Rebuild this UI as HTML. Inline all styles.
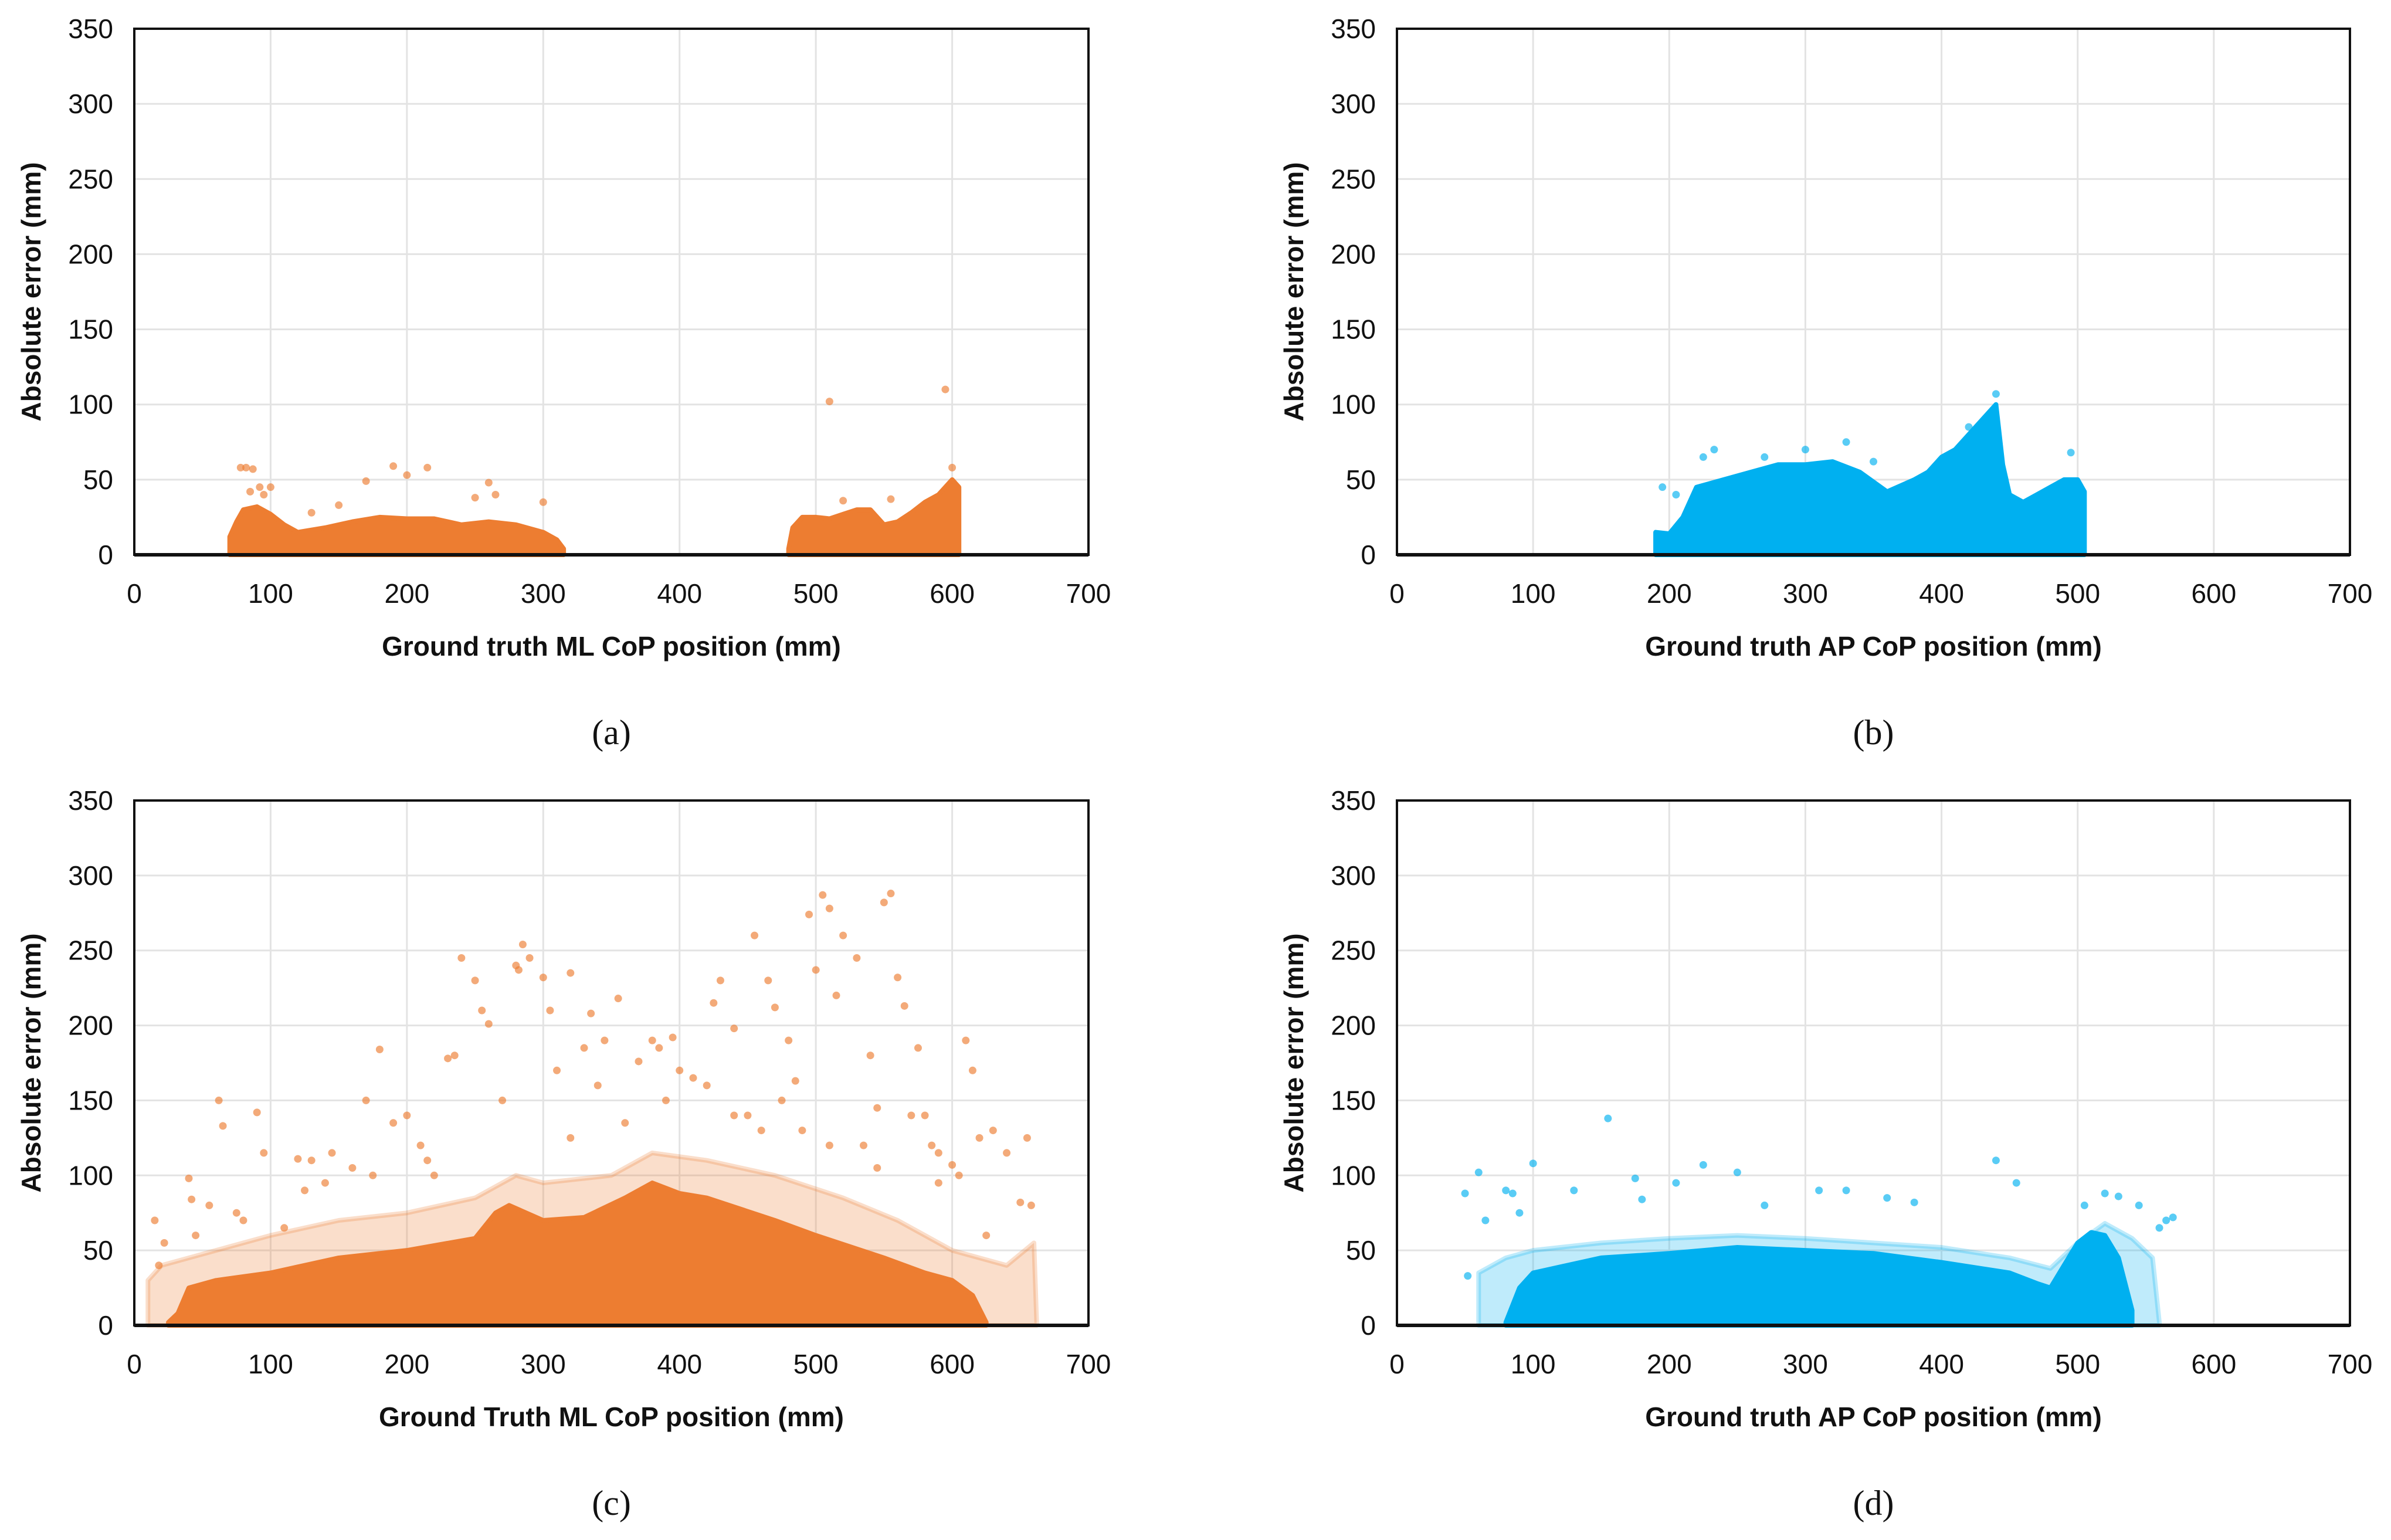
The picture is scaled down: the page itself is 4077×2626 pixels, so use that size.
<!DOCTYPE html>
<html><head><meta charset="utf-8"><style>
html,body{margin:0;padding:0;background:#fff;}
svg{display:block;}
.tk{font-family:"Liberation Sans",sans-serif;font-size:46px;fill:#111;}
.ti{font-family:"Liberation Sans",sans-serif;font-size:46px;font-weight:bold;fill:#111;}
.cap{font-family:"Liberation Serif",serif;font-size:60px;fill:#111;}
</style></head><body>
<svg id="fig" width="4077" height="2626" viewBox="0 0 4077 2626" xmlns="http://www.w3.org/2000/svg"></svg>
<script>
// ---------- data ----------
const xTicks=[0,100,200,300,400,500,600,700];
const yTicks=[0,50,100,150,200,250,300,350];
// panel a
const aEnvX1=[70,75,80,90,100,110,120,140,160,180,200,220,240,260,280,300,310,315];
const aEnvY1=[12,22,30,32,27,20,15,18,22,25,24,24,20,22,20,15,10,4];
const aEnvX2=[480,483,490,500,510,520,530,540,550,560,570,580,590,600,605];
const aEnvY2=[4,18,25,25,24,27,30,30,20,22,28,35,40,50,45];
const aOutX=[78,82,87,190,215,200,170,260,265,510,595,600,92,100,300,520,555,150,130,250,95,85];
const aOutY=[58,58,57,59,58,53,49,48,40,102,110,58,45,45,35,36,37,33,28,38,40,42];
// panel b
const bEnvX=[190,200,210,220,240,260,280,300,320,340,360,380,390,400,410,420,430,440,445,450,460,470,480,490,500,505];
const bEnvY=[15,14,25,45,50,55,60,60,62,55,42,50,55,65,70,80,90,100,60,40,35,40,45,50,50,42];
const bOutX=[195,225,233,270,330,440,495,420,205,300,350];
const bOutY=[45,65,70,65,75,107,68,85,40,70,62];
// panel c
const cEnvX=[25,32,40,60,100,150,200,250,265,275,300,330,360,380,400,420,470,500,550,580,600,615,625];
const cEnvY=[2,8,25,30,35,45,50,58,75,80,70,72,85,95,88,85,70,60,45,35,30,20,2];
const cHaloX=[10,20,40,60,100,150,200,250,280,300,350,380,420,470,520,560,600,620,640,660,662];
const cHaloY=[30,40,45,50,60,70,75,85,100,95,100,115,110,100,85,70,50,45,40,55,2];
const cOutX=[15,18,22,40,42,62,65,90,95,120,130,145,170,180,190,230,235,240,250,255,260,280,282,285,290,300,305,310,320,330,335,345,355,370,380,385,395,400,410,425,430,440,455,465,470,480,485,495,500,505,510,515,520,530,540,550,555,560,565,575,580,590,600,610,615,620,630,640,650,655,658,45,75,110,160,200,210,220,270,340,390,420,450,475,490,535,545,570,585,605,55,80,125,140,175,215,320,360,440,460,510,545,590,625];
const cOutY=[70,40,55,98,84,150,133,142,115,111,110,115,150,184,135,178,180,245,230,210,201,240,237,254,245,232,210,170,235,185,208,190,218,176,190,185,192,170,165,215,230,198,260,230,212,190,163,274,237,287,278,220,260,245,180,282,288,232,213,185,140,115,107,190,170,125,130,115,82,125,80,60,75,65,105,140,120,100,150,160,150,160,140,150,130,120,145,140,120,100,80,70,90,95,100,110,125,135,140,130,120,105,95,60];
// panel d
const dEnvX=[80,90,100,150,200,250,300,350,400,450,470,480,490,500,510,520,530,540];
const dEnvY=[2,25,35,45,48,52,50,48,42,35,28,25,40,55,62,60,45,10];
const dHaloX=[60,80,100,150,200,250,300,350,400,450,480,500,520,540,555,560];
const dHaloY=[35,45,50,55,58,60,58,55,52,45,38,55,68,58,45,2];
const dOutX=[50,52,60,80,85,100,155,175,225,250,440,455,520,530,570,545,65,90,130,180,205,330,380,310,270,360,560,565,505];
const dOutY=[88,33,102,90,88,108,138,98,107,102,110,95,88,86,72,80,70,75,90,84,95,90,82,90,80,85,65,70,80];

// ---------- drawing ----------
const NS="http://www.w3.org/2000/svg";
const svg=document.getElementById('fig');
function mk(tag,attrs,parent){const e=document.createElementNS(NS,tag);for(const k in attrs)e.setAttribute(k,attrs[k]);(parent||svg).appendChild(e);return e;}

function panel(cfg){
  const {x0,x1,y0,y1}=cfg;
  const sx=v=>x0+(x1-x0)*v/700;
  const sy=v=>y0-(y0-y1)*v/350;
  const g=mk('g',{});
  
  
  xTicks.forEach(t=>{if(t>0&&t<700){const l=mk('line',{x1:sx(t),x2:sx(t),y1:y1,y2:y0,stroke:'#e3e3e3','stroke-width':3},g);
    
    }});
  yTicks.forEach(t=>{if(t>0&&t<350){const l=mk('line',{x1:x0,x2:x1,y1:sy(t),y2:sy(t),stroke:'#e3e3e3','stroke-width':3},g);
    
    }});
  function area(xs,ys,op,nm){
    let d='M'+sx(xs[0])+','+sy(0);
    xs.forEach((x,i)=>{d+=' L'+sx(x)+','+sy(ys[i]);});
    d+=' L'+sx(xs[xs.length-1])+','+sy(0)+' Z';
    const p=mk('path',{d:d,fill:cfg.color,'fill-opacity':op,stroke:cfg.color,'stroke-opacity':op,'stroke-width':8,'stroke-linejoin':'round'},g);
    
    
  }
  if(cfg.haloX) area(cfg.haloX,cfg.haloY,0.25,'scatter-halo');
  cfg.envs.forEach(e=>area(e[0],e[1],1,'scatter-density'));
  cfg.outX.forEach((x,i)=>{
    const c=mk('circle',{cx:sx(x),cy:sy(cfg.outY[i]),r:6.5,fill:cfg.color,'fill-opacity':0.65},g);
    
    
  });
  const r=mk('rect',{x:x0,y:y1,width:x1-x0,height:y0-y1,fill:'none',stroke:'#111','stroke-width':4},g);
  
  
  const zl=mk('line',{x1:x0,x2:x1,y1:y0,y2:y0,stroke:'#111','stroke-width':6},g);
  
  
  xTicks.forEach(t=>{const e=mk('text',{x:sx(t),y:y0+82,'text-anchor':'middle',class:'tk'},g);e.textContent=t;
    
    });
  yTicks.forEach(t=>{const e=mk('text',{x:x0-36,y:sy(t)+16,'text-anchor':'end',class:'tk'},g);e.textContent=t;
    
    });
  const xt=mk('text',{x:(x0+x1)/2,y:y0+172,'text-anchor':'middle',class:'ti'},g);xt.textContent=cfg.xtitle;
  
  
  const yc=(y0+y1)/2;
  const yt=mk('text',{x:x0-160,y:yc,'text-anchor':'middle',class:'ti',transform:'rotate(-90 '+(x0-160)+' '+yc+')'},g);yt.textContent='Absolute error (mm)';
  
  
  const cp=mk('text',{x:(x0+x1)/2,y:y0+323,'text-anchor':'middle',class:'cap'},g);cp.textContent=cfg.cap;
  
  
}
const OR='#ED7D31', BL='#00B0F0';
panel({name:'panel-a',x0:229,x1:1856,y0:946,y1:49,color:OR,envs:[[aEnvX1,aEnvY1],[aEnvX2,aEnvY2]],outX:aOutX,outY:aOutY,xtitle:'Ground truth ML CoP position (mm)',cap:'(a)'});
panel({name:'panel-b',x0:2382,x1:4007,y0:946,y1:49,color:BL,envs:[[bEnvX,bEnvY]],outX:bOutX,outY:bOutY,xtitle:'Ground truth AP CoP position (mm)',cap:'(b)'});
panel({name:'panel-c',x0:229,x1:1856,y0:2260,y1:1365,color:OR,envs:[[cEnvX,cEnvY]],haloX:cHaloX,haloY:cHaloY,outX:cOutX,outY:cOutY,xtitle:'Ground Truth ML CoP position (mm)',cap:'(c)'});
panel({name:'panel-d',x0:2382,x1:4007,y0:2260,y1:1365,color:BL,envs:[[dEnvX,dEnvY]],haloX:dHaloX,haloY:dHaloY,outX:dOutX,outY:dOutY,xtitle:'Ground truth AP CoP position (mm)',cap:'(d)'});
</script>
</body></html>
